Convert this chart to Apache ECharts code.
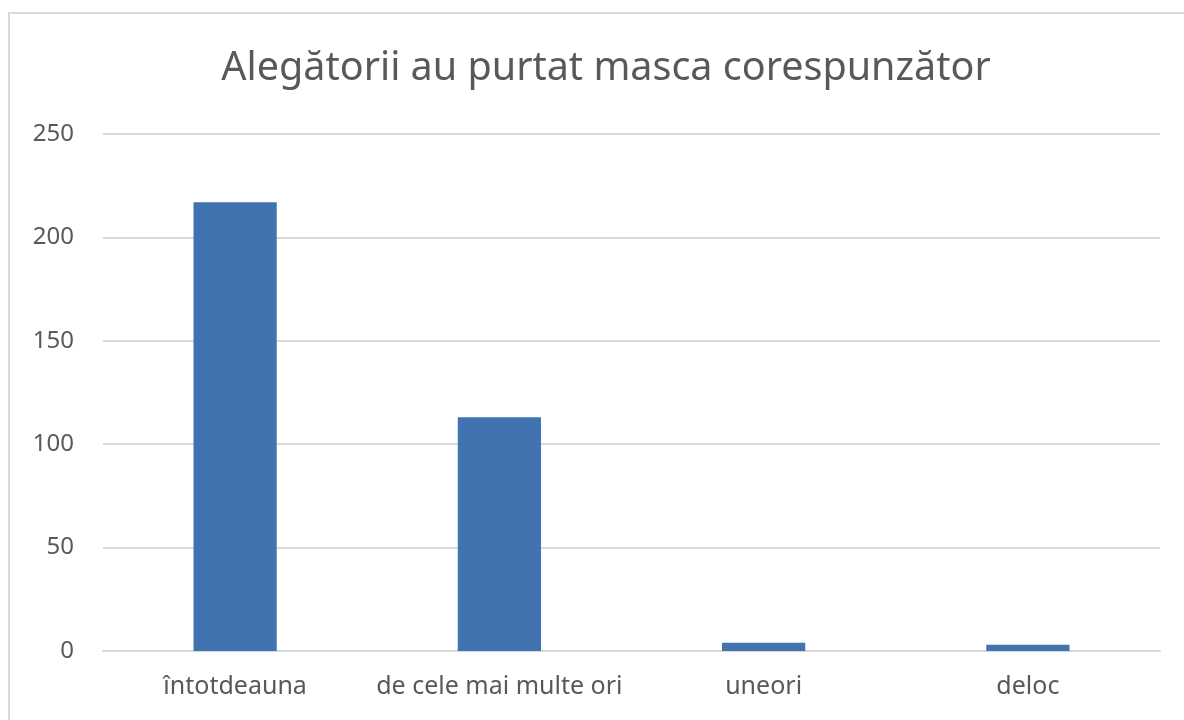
<!DOCTYPE html>
<html>
<head>
<meta charset="utf-8">
<script src="https://cdn.jsdelivr.net/npm/echarts@6/dist/echarts.min.js"></script>
<style>
  html, body { margin: 0; padding: 0; background: #fff; }
  #chart { width: 1184px; height: 720px; }
</style>
</head>
<body>
<div id="chart"></div>
<script>
  var titleText = 'Alegătorii au purtat masca corespunzător';
  var categories = ['întotdeauna', 'de cele mai multe ori', 'uneori', 'deloc'];
  var values = [217, 113, 4, 3];
  var yTicks = { min: 0, max: 250, interval: 50 };

  var font = '"Noto Sans", "Open Sans", sans-serif';

  document.addEventListener('DOMContentLoaded', function () {
    var chart = echarts.init(document.getElementById('chart'));
    chart.setOption({
      backgroundColor: '#fff',
      animation: false,
      graphic: [{
        type: 'rect',
        shape: { x: 9, y: 13, width: 1200, height: 740 },
        style: { fill: 'none', stroke: '#d9d9d9', lineWidth: 2 },
        silent: true
      }],
      title: {
        text: titleText,
        left: 601,
        top: 44,
        textAlign: 'center',
        textStyle: { fontFamily: font, fontSize: 39.5, fontWeight: 'normal', color: '#595959' }
      },
      grid: { left: 103, right: 24, top: 134, bottom: 69 },
      xAxis: {
        type: 'category',
        data: categories,
        axisTick: { show: false },
        axisLine: { lineStyle: { color: '#d9d9d9', width: 2 } },
        axisLabel: { interval: 0, fontFamily: font, fontSize: 25, color: '#595959', margin: 23 }
      },
      yAxis: {
        type: 'value',
        min: yTicks.min,
        max: yTicks.max,
        interval: yTicks.interval,
        axisLine: { show: false },
        axisTick: { show: false },
        splitLine: { lineStyle: { color: '#d9d9d9', width: 2 } },
        axisLabel: { fontFamily: font, fontSize: 24, color: '#595959', margin: 29 }
      },
      series: [{
        type: 'bar',
        data: values,
        barWidth: '31.5%',
        itemStyle: { color: '#4273b1' }
      }]
    });
  });
</script>
</body>
</html>
